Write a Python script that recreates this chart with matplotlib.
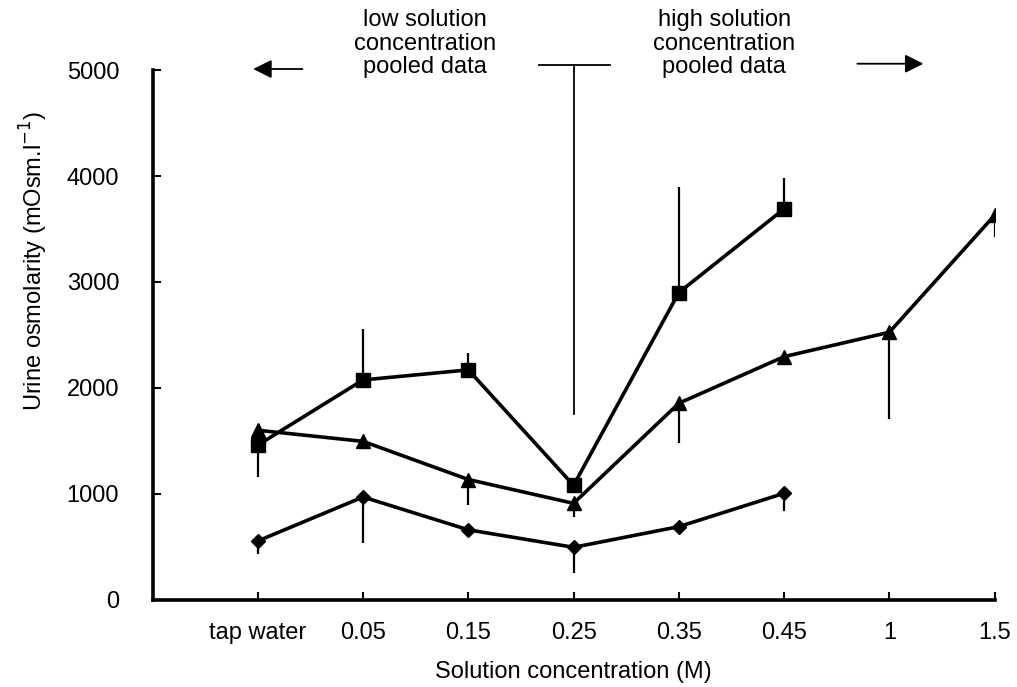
import matplotlib
matplotlib.use("Agg")
import matplotlib.pyplot as plt

plt.rcParams["font.family"] = ["Liberation Sans", "DejaVu Sans"]

# categories along the x axis
categories = ["tap water", "0.05", "0.15", "0.25", "0.35", "0.45", "1", "1.5"]

# series values (mOsm/l) and one-sided error bars
square_vals = [1460, 2075, 2170, 1080, 2900, 3690]
square_err_lo = [300, 0, 0, 0, 0, 0]
square_err_hi = [0, 480, 160, 70, 1000, 290]

triangle_vals = [1600, 1495, 1135, 910, 1855, 2295, 2525, 3630]
triangle_err_lo = [0, 0, 240, 130, 380, 70, 820, 210]
triangle_err_hi = [0, 0, 0, 0, 0, 0, 0, 0]

diamond_vals = [555, 970, 660, 495, 690, 1005]
diamond_err_lo = [120, 430, 0, 240, 0, 170]
diamond_err_hi = [0, 0, 0, 0, 0, 0]

# divider between low / high concentration groups
divider_x = 4
divider_top = 5050
divider_bottom = 1750

fig = plt.figure(figsize=(10.17, 6.87), dpi=100)
ax = fig.add_axes([0.150, 0.127, 0.828, 0.771])

xs = list(range(1, len(categories) + 1))


def draw(vals, lo, hi, marker, ms):
    x = xs[:len(vals)]
    ax.errorbar(x, vals, yerr=[lo, hi], fmt="none", ecolor="black",
                elinewidth=1.6, capsize=0)
    ax.plot(x, vals, color="black", lw=2.6, marker=marker, ms=ms,
            mfc="black", mec="black")


draw(square_vals, square_err_lo, square_err_hi, "s", 9.5)
draw(triangle_vals, triangle_err_lo, triangle_err_hi, "^", 9.5)
draw(diamond_vals, diamond_err_lo, diamond_err_hi, "D", 7)

# divider T-line
ax.plot([divider_x, divider_x], [divider_bottom, divider_top], color="black",
        lw=1.3, clip_on=False)
ax.plot([divider_x - 0.33, divider_x + 0.35], [divider_top, divider_top],
        color="black", lw=1.3, clip_on=False)

ax.set_xlim(0, 8)
ax.set_ylim(0, 5000)
ax.set_xticks(xs)
ax.set_xticklabels(categories)
ax.set_yticks([0, 1000, 2000, 3000, 4000, 5000])
ax.tick_params(direction="in", length=6, width=1.5, labelsize=17)
ax.tick_params(axis="x", pad=16)
ax.tick_params(axis="y", pad=24)
for s in ["top", "right"]:
    ax.spines[s].set_visible(False)
for s in ["left", "bottom"]:
    ax.spines[s].set_linewidth(2.6)

ax.set_xlabel("Solution concentration (M)", fontsize=17, labelpad=12)
ax.set_ylabel("Urine osmolarity (mOsm.l$^{-1}$)", fontsize=17)
ax.yaxis.set_label_coords(-0.122, 0.64)

# header annotations
ax.text(2.59, 5250, "low solution\nconcentration\npooled data", ha="center",
        va="center", fontsize=17, linespacing=1.08)
ax.text(5.43, 5250, "high solution\nconcentration\npooled data", ha="center",
        va="center", fontsize=17, linespacing=1.08)
ax.annotate("", xy=(0.93, 5010), xytext=(1.45, 5010),
            arrowprops=dict(arrowstyle="-|>", color="black", lw=1.3,
                            mutation_scale=28), annotation_clip=False)
ax.annotate("", xy=(7.35, 5060), xytext=(6.67, 5060),
            arrowprops=dict(arrowstyle="-|>", color="black", lw=1.3,
                            mutation_scale=28), annotation_clip=False)

fig.savefig("out.png", dpi=100)
